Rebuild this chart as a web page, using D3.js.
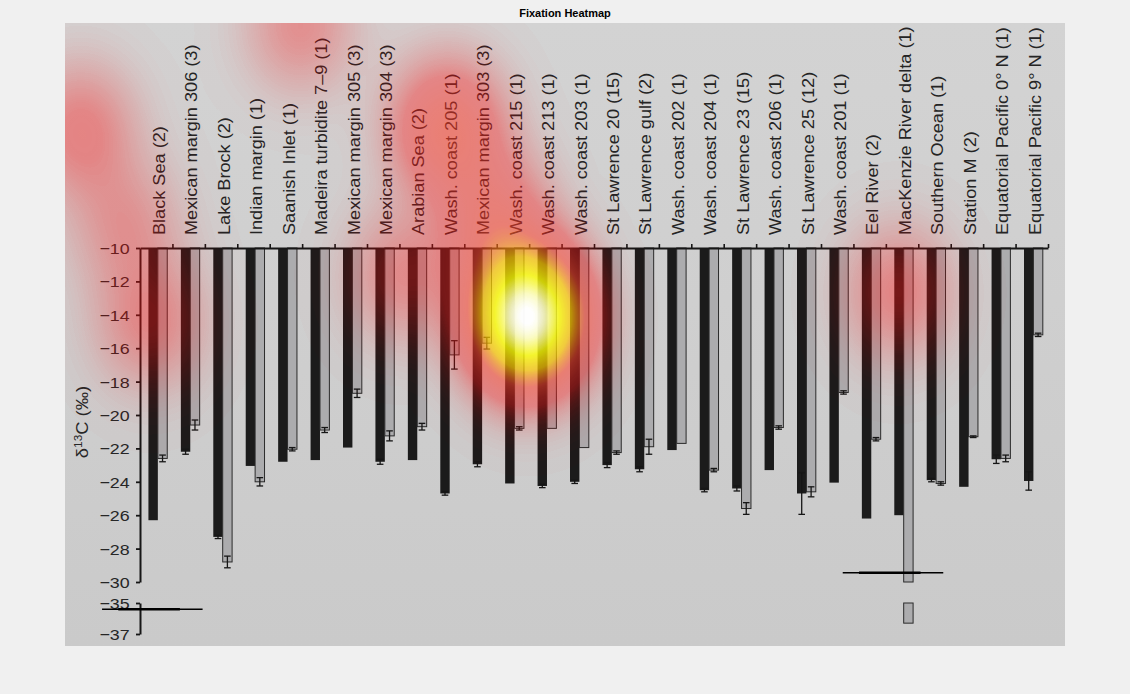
<!DOCTYPE html>
<html><head><meta charset="utf-8">
<script src="https://cdn.jsdelivr.net/npm/d3@7"></script>
<style>html,body{margin:0;padding:0;background:#f0f0f0;} svg{display:block}</style>
</head><body>
<svg id="c" width="1130" height="694"></svg>
<script>
// ---------------- data ----------------
const categories = ["Black Sea (2)","Mexican margin 306 (3)","Lake Brock (2)","Indian margin (1)","Saanish Inlet (1)","Madeira turbidite 7–9 (1)","Mexican margin 305 (3)","Mexican margin 304 (3)","Arabian Sea (2)","Wash. coast 205 (1)","Mexican margin 303 (3)","Wash. coast 215 (1)","Wash. coast 213 (1)","Wash. coast 203 (1)","St Lawrence 20 (15)","St Lawrence gulf (2)","Wash. coast 202 (1)","Wash. coast 204 (1)","St Lawrence 23 (15)","Wash. coast 206 (1)","St Lawrence 25 (12)","Wash. coast 201 (1)","Eel River (2)","MacKenzie River delta (1)","Southern Ocean (1)","Station M (2)","Equatorial Pacific 0° N (1)","Equatorial Pacific 9° N (1)"];
const darkValues = [-26.3,-22.2,-27.3,-23.05,-22.8,-22.7,-21.95,-22.8,-22.7,-24.7,-22.95,-24.1,-24.25,-24.0,-23.0,-23.25,-22.1,-24.5,-24.4,-23.3,-24.7,-24.05,-26.2,-26.0,-23.9,-24.3,-22.65,-23.95];
const darkErr = [0,0.15,0.1,0,0,0,0,0.15,0,0.1,0.15,0,0.1,0.1,0.15,0.15,0,0.1,0.15,0,1.25,0,0,0,0.1,0,0.25,0.55];
const lightValues = [-22.6,-20.6,-28.8,-24.0,-22.05,-20.9,-18.7,-21.25,-20.7,-16.4,-15.7,-20.8,-20.8,-21.95,-22.25,-21.9,-21.7,-23.3,-25.6,-20.75,-24.6,-18.65,-21.45,-36.3,-24.1,-21.3,-22.6,-15.2];
const lightErr = [0.2,0.3,0.35,0.25,0.1,0.15,0.25,0.3,0.2,0.85,0.35,0.1,0,0,0.1,0.45,0,0.1,0.35,0.1,0.3,0.1,0.1,0,0.1,0.05,0.2,0.1];
const upperTicks = [-10,-12,-14,-16,-18,-20,-22,-24,-26,-28,-30];
const lowerTicks = [-35,-37];
// break marks: category, value on its segment, start offset (in bands)
const breakCats = ["Black Sea (2)","MacKenzie River delta (1)"];
const breakVals = [-35.4,-29.45];
const breakSeg = ["lower","upper"];
const breakStart = [-1.17,-1.33];
// fixations (normalised image coordinates) and weights
const fixX = [0.462,0.382,0.428,0.335,0.015,0.060,0.085,0.235,0.833];
const fixY = [0.472,0.170,0.315,0.405,0.172,0.324,0.480,0.003,0.432];
const fixW = [1.0,0.28,0.2,0.12,0.15,0.1,0.13,0.12,0.14];

// ---------------- drawing ----------------
const FONT = "'Liberation Sans', Arial, Helvetica, sans-serif";
const svg = d3.select("#c");
svg.append("rect").attr("width",1130).attr("height",694).attr("fill","#f0f0f0");
svg.append("text").attr("x",565).attr("y",17).attr("text-anchor","middle")
  .attr("font-family",FONT).attr("font-weight","bold").attr("font-size",11).attr("fill","#000")
  .text("Fixation Heatmap");

const img = {x:65,y:23,w:1000,h:623};
const defs = svg.append("defs");
const lg = defs.append("linearGradient").attr("id","bg").attr("x1",0).attr("y1",0).attr("x2",0).attr("y2",1);
lg.append("stop").attr("offset","0").attr("stop-color","#d3d3d3");
lg.append("stop").attr("offset","1").attr("stop-color","#cacaca");
svg.append("rect").attr("x",img.x).attr("y",img.y).attr("width",img.w).attr("height",img.h).attr("fill","url(#bg)");

const x = d3.scaleBand().domain(categories).range([140,1048]).padding(0);
const bw = x.bandwidth();
const yU = d3.scaleLinear().domain([-10,-30]).range([248,582]);
const yL = d3.scaleLinear().domain([-35,-37]).range([603,634]);
const idx = d3.scaleLinear().domain([0,categories.length]).range([140,1048]);

const g = svg.append("g");
const ink = "#161616";

// dark bars
g.selectAll("rect.dark").data(categories).join("rect")
  .attr("x",c=>x(c)+0.26*bw).attr("width",0.29*bw)
  .attr("y",yU(-10)).attr("height",(c,i)=>yU(darkValues[i])-yU(-10))
  .attr("fill","#1b1b1b");

// light bars (upper piece)
g.selectAll("rect.light").data(categories).join("rect")
  .attr("x",c=>x(c)+0.55*bw).attr("width",0.29*bw)
  .attr("y",yU(-10)).attr("height",(c,i)=>yU(Math.max(lightValues[i],-30))-yU(-10))
  .attr("fill","#acacae").attr("stroke","#2a2a2a").attr("stroke-width",1);
// light bars (lower piece for values below the break)
g.selectAll("rect.lightLow").data(categories.filter((c,i)=>lightValues[i]< -30)).join("rect")
  .attr("x",c=>x(c)+0.55*bw).attr("width",0.29*bw)
  .attr("y",yL(-35)).attr("height",c=>yL(lightValues[categories.indexOf(c)])-yL(-35))
  .attr("fill","#acacae").attr("stroke","#2a2a2a").attr("stroke-width",1);

function errBar(cx, v, e){
  if(!e) return;
  const y1 = yU(v-e), y2 = yU(v+e);
  g.append("line").attr("x1",cx).attr("x2",cx).attr("y1",y1).attr("y2",y2).attr("stroke",ink).attr("stroke-width",1.3);
  [y1,y2].forEach(yy=>g.append("line").attr("x1",cx-3.3).attr("x2",cx+3.3).attr("y1",yy).attr("y2",yy).attr("stroke",ink).attr("stroke-width",1.3));
}
categories.forEach((c,i)=>{
  errBar(x(c)+0.405*bw, darkValues[i], darkErr[i]);
  errBar(x(c)+0.695*bw, lightValues[i], lightErr[i]);
});

// top category axis
const topAxis = g.append("g").attr("transform",`translate(0,${yU(-10)})`)
  .call(d3.axisTop(idx).tickValues(d3.range(1,categories.length+1)).tickSize(4).tickSizeOuter(0).tickFormat(""));
topAxis.select(".domain").attr("stroke",ink).attr("stroke-width",2);
topAxis.selectAll(".tick line").attr("stroke",ink).attr("stroke-width",1.6);

// left axes
function styleAxis(sel){
  sel.select(".domain").attr("stroke",ink).attr("stroke-width",2);
  sel.selectAll(".tick line").attr("stroke",ink).attr("stroke-width",1.8);
  sel.selectAll(".tick text").attr("font-family",FONT).attr("font-size",15.5).attr("fill","#262626")
    .attr("x",-9).attr("dy","0.36em").attr("transform","scale(1.15,1)");
}
g.append("g").attr("transform","translate(140,0)")
  .call(d3.axisLeft(yU).tickValues(upperTicks).tickSize(4).tickSizeOuter(0).tickFormat(d3.format("d"))).call(styleAxis);
g.append("g").attr("transform","translate(140,0)")
  .call(d3.axisLeft(yL).tickValues(lowerTicks).tickSize(4).tickSizeOuter(0).tickFormat(d3.format("d"))).call(styleAxis);

// y title
const yt = g.append("text").attr("transform","translate(88,422) rotate(-90) scale(1.08,1)")
  .attr("text-anchor","middle").attr("font-family",FONT).attr("font-size",17).attr("fill","#262626");
yt.append("tspan").text("δ");
yt.append("tspan").attr("font-size",11).attr("dy",-6).text("13");
yt.append("tspan").attr("dy",6).text("C (‰)");

// category labels
g.selectAll("text.cat").data(categories).join("text")
  .attr("transform",c=>`translate(${x(c)+25},235) rotate(-90) scale(1.08,1)`)
  .attr("font-family",FONT).attr("font-size",16.8).attr("fill","#242424")
  .text(c=>c);

// break marks
breakCats.forEach((c,i)=>{
  const yy = breakSeg[i]==="lower" ? yL(breakVals[i]) : yU(breakVals[i]);
  const x0 = x(c) + breakStart[i]*bw;
  const x1 = x0 + 3.1*bw;
  g.append("line").attr("x1",x0).attr("x2",x1).attr("y1",yy).attr("y2",yy).attr("stroke","#000").attr("stroke-width",1.4);
  g.append("line").attr("x1",x0+0.5*bw).attr("x2",x1-0.7*bw).attr("y1",yy).attr("y2",yy).attr("stroke","#000").attr("stroke-width",2.6);
});

// ---------------- heat overlay ----------------
const hx = d3.scaleLinear().domain([0,1]).range([0,img.w]);
const hy = d3.scaleLinear().domain([0,1]).range([0,img.h]);
const sigmaX = 37, sigmaY = 45;
const cmap = d3.scaleLinear()
  .domain([0,0.04,0.14,0.3,0.5,0.7,0.9,1])
  .range(["rgba(255,0,0,0)","rgba(255,0,0,0.12)","rgba(255,20,20,0.4)","rgba(255,60,40,0.55)","rgba(255,200,0,0.7)","rgba(255,255,0,0.78)","rgba(255,255,190,0.9)","rgba(255,255,255,0.97)"])
  .interpolate(d3.interpolateRgb).clamp(true);
const LUT = d3.range(256).map(k=>{const c=d3.color(cmap(k/255)); return [c.r,c.g,c.b,Math.round(c.opacity*255)];});
const cv = document.createElement("canvas"); cv.width=img.w; cv.height=img.h;
const ctx = cv.getContext("2d");
const id = ctx.createImageData(img.w,img.h);
const px = fixX.map(hx), py = fixY.map(hy);
const sx2 = 2*sigmaX*sigmaX, sy2 = 2*sigmaY*sigmaY;
for(let yy=0; yy<img.h; yy++){
  for(let xx=0; xx<img.w; xx++){
    let t=0;
    for(let k=0;k<px.length;k++){
      const dx=xx-px[k], dy=yy-py[k];
      const q=dx*dx/sx2+dy*dy/sy2;
      if(q<7) t+=fixW[k]*Math.exp(-q);
    }
    const li = Math.min(255, Math.round(t*255));
    const o=(yy*img.w+xx)*4, c=LUT[li];
    id.data[o]=c[0]; id.data[o+1]=c[1]; id.data[o+2]=c[2]; id.data[o+3]=c[3];
  }
}
ctx.putImageData(id,0,0);
svg.append("image").attr("x",img.x).attr("y",img.y).attr("width",img.w).attr("height",img.h)
  .attr("href",cv.toDataURL());
</script>
</body></html>
